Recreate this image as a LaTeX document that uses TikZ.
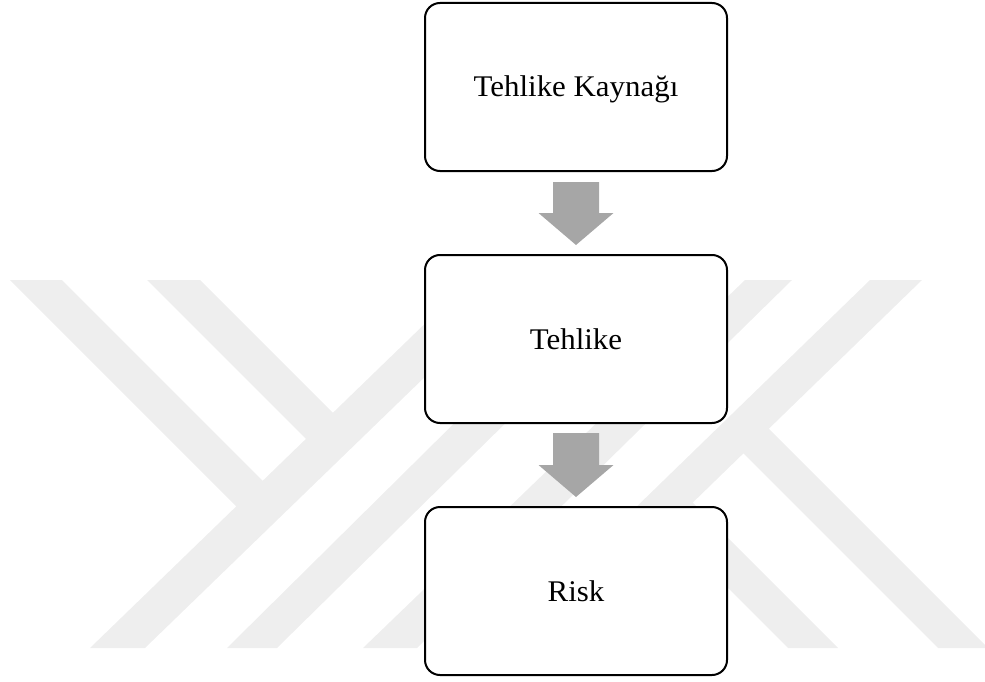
\documentclass[tikz,border=0pt]{standalone}
\usepackage{fontspec}
\setmainfont{Liberation Serif}[FakeStretch=1.03]
\usetikzlibrary{calc}
\definecolor{wm}{RGB}{238,238,238}
\definecolor{arrowgray}{RGB}{166,166,166}
\begin{document}
\begin{tikzpicture}[x=1pt,y=-1pt,
  box/.style={draw, line width=2pt, rounded corners=15pt, fill=white,
    minimum width=302pt, minimum height=168pt, inner sep=0pt, outer sep=0pt,
    text height=20pt, text depth=0pt, font=\fontsize{30}{36}\selectfont},
  blockarrow/.style={fill=arrowgray},
  wmstrip/.style={fill=wm}]
\useasboundingbox (0,0) rectangle (985,682);
% watermark
\begin{scope}
\clip (0,0) rectangle (985,682);
\fill[wmstrip] (90,648) -- (145,648) -- (525,280) -- (470,280) -- cycle;
\fill[wmstrip] (227,648) -- (277,648) -- (651,280) -- (599,280) -- cycle;
\fill[wmstrip] (363,648) -- (417,648) -- (792,280) -- (745,280) -- cycle;
\fill[wmstrip] (491,648) -- (543,648) -- (922,280) -- (870,280) -- cycle;
\fill[wmstrip] (10,280) -- (62,280) -- (276.3,494.3) -- (249.9,519.9) -- cycle;
\fill[wmstrip] (147,280) -- (200,280) -- (346.5,426.5) -- (319.6,452.6) -- cycle;
\fill[wmstrip] (788,648) -- (838,648) -- (680,490) -- (654.5,514.5) -- cycle;
\fill[wmstrip] (938,648) -- (988,648) -- (756,416) -- (730.6,440.6) -- cycle;
\end{scope}
% boxes
\node[box] (b1) at (576,87) {Tehlike Kaynağı};
\node[box] (b2) at (576,339) {Tehlike};
\node[box] (b3) at (576,591) {Risk};
% arrows
\fill[blockarrow] ($(b1.south)+(-23,11)$) -- ($(b1.south)+(23,11)$) -- ($(b1.south)+(23,42)$) -- ($(b1.south)+(37.5,42)$) -- ($(b2.north)+(0,-10)$) -- ($(b1.south)+(-37.5,42)$) -- ($(b1.south)+(-23,42)$) -- cycle;
\fill[blockarrow] ($(b2.south)+(-23,10)$) -- ($(b2.south)+(23,10)$) -- ($(b2.south)+(23,42)$) -- ($(b2.south)+(37.5,42)$) -- ($(b3.north)+(0,-10)$) -- ($(b2.south)+(-37.5,42)$) -- ($(b2.south)+(-23,42)$) -- cycle;
\end{tikzpicture}
\end{document}
